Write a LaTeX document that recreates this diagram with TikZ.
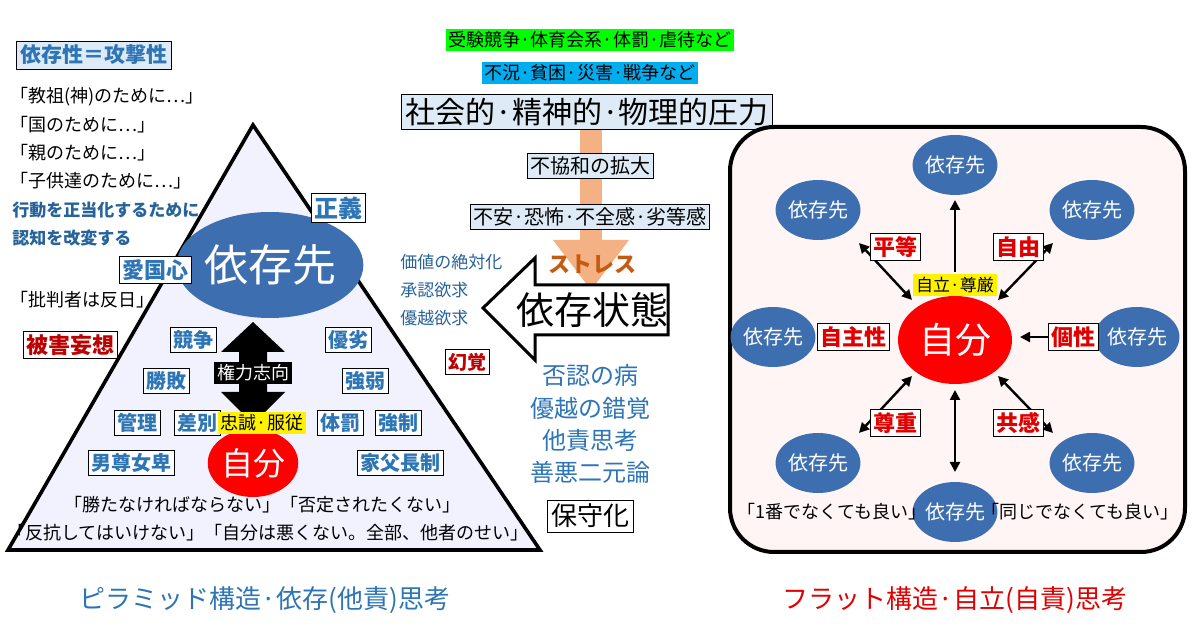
\documentclass[tikz,border=0pt]{standalone}
\usepackage{fontspec}
\setmainfont{Noto Sans CJK JP}
\usetikzlibrary{shapes.geometric,arrows.meta}
\definecolor{tblue}{HTML}{2E75B6}
\definecolor{eblue}{HTML}{3D6FB0}
\definecolor{tred}{HTML}{E00000}
\definecolor{lblue}{HTML}{DEEBF7}
\definecolor{lorange}{HTML}{F4B183}
\definecolor{dorange}{HTML}{C55A11}
\begin{document}
\begin{tikzpicture}[x=0.5pt,y=-0.5pt,
  lbl/.style={draw=black,fill=white,line width=0.5pt,inner sep=1.5pt,text=tblue,font=\fontsize{10}{10}\selectfont\bfseries},
  rlbl/.style={draw=black,fill=white,line width=0.5pt,inner sep=1.5pt,text=tred,font=\fontsize{11}{11}\selectfont\bfseries},
  plain/.style={font=\fontsize{9}{9}\selectfont,inner sep=1pt},
  bplain/.style={font=\fontsize{8.5}{8.5}\selectfont\bfseries,text=tblue!85!black,inner sep=1pt,anchor=west},
  bx/.style={draw=black,fill=lblue,line width=0.5pt,inner sep=1.5pt,font=\fontsize{10}{10}\selectfont},
  dep/.style={ellipse,fill=eblue,text=white,minimum width=80pt*0.5,minimum height=60pt*0.5,inner sep=0pt,font=\fontsize{10}{10}\selectfont},
  arr/.style={-{Triangle[length=5pt,width=5pt]},line width=1.2pt},
  darr/.style={{Triangle[length=5pt,width=5pt]}-{Triangle[length=5pt,width=5pt]},line width=1.2pt}]
\useasboundingbox (0,0) rectangle (1200,641);
\fill[white] (0,0) rectangle (1200,641);
% ---------- left ----------
\node[draw=black,fill=lblue,inner sep=2pt,text=tblue,font=\fontsize{10.5}{10.5}\selectfont\bfseries] (dep0) at (94,55) {依存性＝攻撃性};
\node[plain,anchor=west] (q1) at (8,97) {「教祖(神)のために…」};
\node[plain,anchor=west] (q2) at (8,125) {「国のために…」};
\node[plain,anchor=west] (q3) at (8,153) {「親のために…」};
\node[plain,anchor=west] (q4) at (8,181) {「子供達のために…」};
\node[bplain] (j1) at (10,210) {行動を正当化するために};
\node[bplain] (j2) at (10,238) {認知を改変する};
\node[plain,anchor=west] (q5) at (8,300) {「批判者は反日」};
\node[rlbl,text=tred!85!black] (hig) at (70,345) {被害妄想};
\path[draw=black,line width=1.8pt,fill=blue!5] (253,125) -- (540,550) -- (8,550) -- cycle;
\node[ellipse,fill=eblue,minimum width=140pt*0.5,minimum height=106pt*0.5,text=white,font=\fontsize{22}{22}\selectfont,inner sep=0pt] (izon) at (270,265) {依存先};
\node[lbl,font=\fontsize{12}{12}\selectfont\bfseries] (seigi) at (338,208) {正義};
\node[lbl,font=\fontsize{11}{11}\selectfont\bfseries] (aikoku) at (155,270) {愛国心};
\fill[black] (253,322) -- (285,352) -- (267,352) -- (267,392) -- (285,392) -- (253,424) -- (221,392) -- (239,392) -- (239,352) -- (221,352) -- cycle;
\node[fill=black,text=white,inner sep=1.5pt,font=\fontsize{9}{9}\selectfont] (kenryoku) at (253,373) {権力志向};
\node[lbl] (kyoso) at (193,340) {競争};
\node[lbl] (yuretsu) at (348,340) {優劣};
\node[lbl] (shohai) at (166,381) {勝敗};
\node[lbl] (kyojaku) at (365,381) {強弱};
\node[lbl] (kanri) at (137,423) {管理};
\node[lbl] (sabetsu) at (197,423) {差別};
\node[ellipse,fill=red,minimum width=82pt*0.5,minimum height=68pt*0.5,text=white,font=\fontsize{16}{16}\selectfont,inner sep=0pt] (jibun1) at (253,463) {自分};
\node[fill=yellow,inner sep=1.5pt,font=\fontsize{9}{9}\selectfont] (chusei) at (262,423) {忠誠·服従};
\node[lbl] (taibatsu) at (340,423) {体罰};
\node[lbl] (kyosei) at (398,423) {強制};
\node[lbl] (danson) at (131,463) {男尊女卑};
\node[lbl] (kafu) at (400,463) {家父長制};
\node[plain] (b1) at (262,505) {「勝たなければならない」「否定されたくない」};
\node[plain] (b2) at (268,533) {「反抗してはいけない」「自分は悪くない。全部、他者のせい」};
\node[text=tblue,font=\fontsize{13}{13}\selectfont] (t1) at (265,600) {ピラミッド構造·依存(他責)思考};
% ---------- middle ----------
\fill[lorange] (580,95) rectangle (602,245);
\fill[lorange] (553,240) -- (629,240) -- (591,290) -- cycle;
\node[fill=green,inner sep=1.5pt,font=\fontsize{9}{9}\selectfont] (g1) at (590,40) {受験競争·体育会系·体罰·虐待など};
\node[fill=cyan,inner sep=1.5pt,font=\fontsize{9}{9}\selectfont] (c1) at (590,73) {不況·貧困·災害·戦争など};
\node[bx,font=\fontsize{15}{15}\selectfont,inner sep=2pt] (atsu) at (587,112) {社会的·精神的·物理的圧力};
\node[bx] (fukyo) at (590,166) {不協和の拡大};
\node[bx] (fuan) at (590,217) {不安·恐怖·不全感·劣等感};
\node[text=dorange,font=\fontsize{11}{11}\selectfont\bfseries] (stress) at (592,264) {ストレス};
\draw[line width=1.5pt,fill=white] (668,285) -- (535,285) -- (535,258) -- (483,308) -- (535,360) -- (535,335) -- (668,335) -- cycle;
\node[font=\fontsize{19}{19}\selectfont] (izst) at (592,310) {依存状態};
\node[bplain,font=\fontsize{8.5}{8.5}\selectfont] (k1) at (398,262) {価値の絶対化};
\node[bplain,font=\fontsize{8.5}{8.5}\selectfont] (k2) at (398,290) {承認欲求};
\node[bplain,font=\fontsize{8.5}{8.5}\selectfont] (k3) at (398,318) {優越欲求};
\node[rlbl,font=\fontsize{9.5}{9.5}\selectfont\bfseries,text=tred!85!black] (genkaku) at (467,362) {幻覚};
\node[text=tblue,font=\fontsize{12}{12}\selectfont] (m1) at (590,375) {否認の病};
\node[text=tblue,font=\fontsize{12}{12}\selectfont] (m2) at (590,408) {優越の錯覚};
\node[text=tblue,font=\fontsize{12}{12}\selectfont] (m3) at (590,440) {他責思考};
\node[text=tblue,font=\fontsize{12}{12}\selectfont] (m4) at (590,472) {善悪二元論};
\node[draw=black,fill=white,inner sep=2pt,font=\fontsize{13}{13}\selectfont] (hoshu) at (590,516) {保守化};
% ---------- right ----------
\draw[line width=2pt,fill=red!4,rounded corners=22pt] (730,127) rectangle (1185,552);
\node[ellipse,fill=red,minimum width=114pt*0.5,minimum height=88pt*0.5,text=white,font=\fontsize{18}{18}\selectfont,inner sep=0pt] (jibun) at (955,340) {自分};
\node[dep] (dT) at (955,165) {依存先};
\node[dep] (dUL) at (818,210) {依存先};
\node[dep] (dUR) at (1092,210) {依存先};
\node[dep] (dL) at (773,337) {依存先};
\node[dep] (dR) at (1137,337) {依存先};
\node[dep] (dLL) at (818,463) {依存先};
\node[dep] (dLR) at (1092,463) {依存先};
\node[dep] (dB) at (955,512) {依存先};
\coordinate (aT1) at (955,272); \coordinate (aT2) at (955,200);
\coordinate (aUL1) at (912,300); \coordinate (aUL2) at (859,243);
\coordinate (aUR1) at (998,300); \coordinate (aUR2) at (1053,243);
\coordinate (aR1) at (1048,337); \coordinate (aR2) at (1020,337);
\coordinate (aLL1) at (912,376); \coordinate (aLL2) at (859,433);
\coordinate (aLR1) at (998,376); \coordinate (aLR2) at (1053,433);
\coordinate (aB1) at (955,390); \coordinate (aB2) at (955,472);
\draw[arr] (aT1) -- (aT2);
\draw[darr] (aUL1) -- (aUL2);
\draw[darr] (aUR1) -- (aUR2);
\draw[arr] (aR1) -- (aR2);
\draw[darr] (aLL1) -- (aLL2);
\draw[darr] (aLR1) -- (aLR2);
\draw[darr] (aB1) -- (aB2);
\node[fill=yellow,inner sep=1.5pt,font=\fontsize{8.5}{8.5}\selectfont] (jiritsu) at (955,285) {自立·尊厳};
\node[rlbl] (byodo) at (895,247) {平等};
\node[rlbl] (jiyu) at (1018,247) {自由};
\node[rlbl] (jishu) at (853,337) {自主性};
\node[rlbl] (kosei) at (1073,337) {個性};
\node[rlbl] (sonchou) at (895,423) {尊重};
\node[rlbl] (kyokan) at (1018,423) {共感};
\node[plain] (n1) at (832,512) {「1番でなくても良い」};
\node[plain] (n2) at (1080,512) {「同じでなくても良い」};
\node[text=tred,font=\fontsize{13}{13}\selectfont] (t2) at (955,600) {フラット構造·自立(自責)思考};
\end{tikzpicture}
\end{document}
